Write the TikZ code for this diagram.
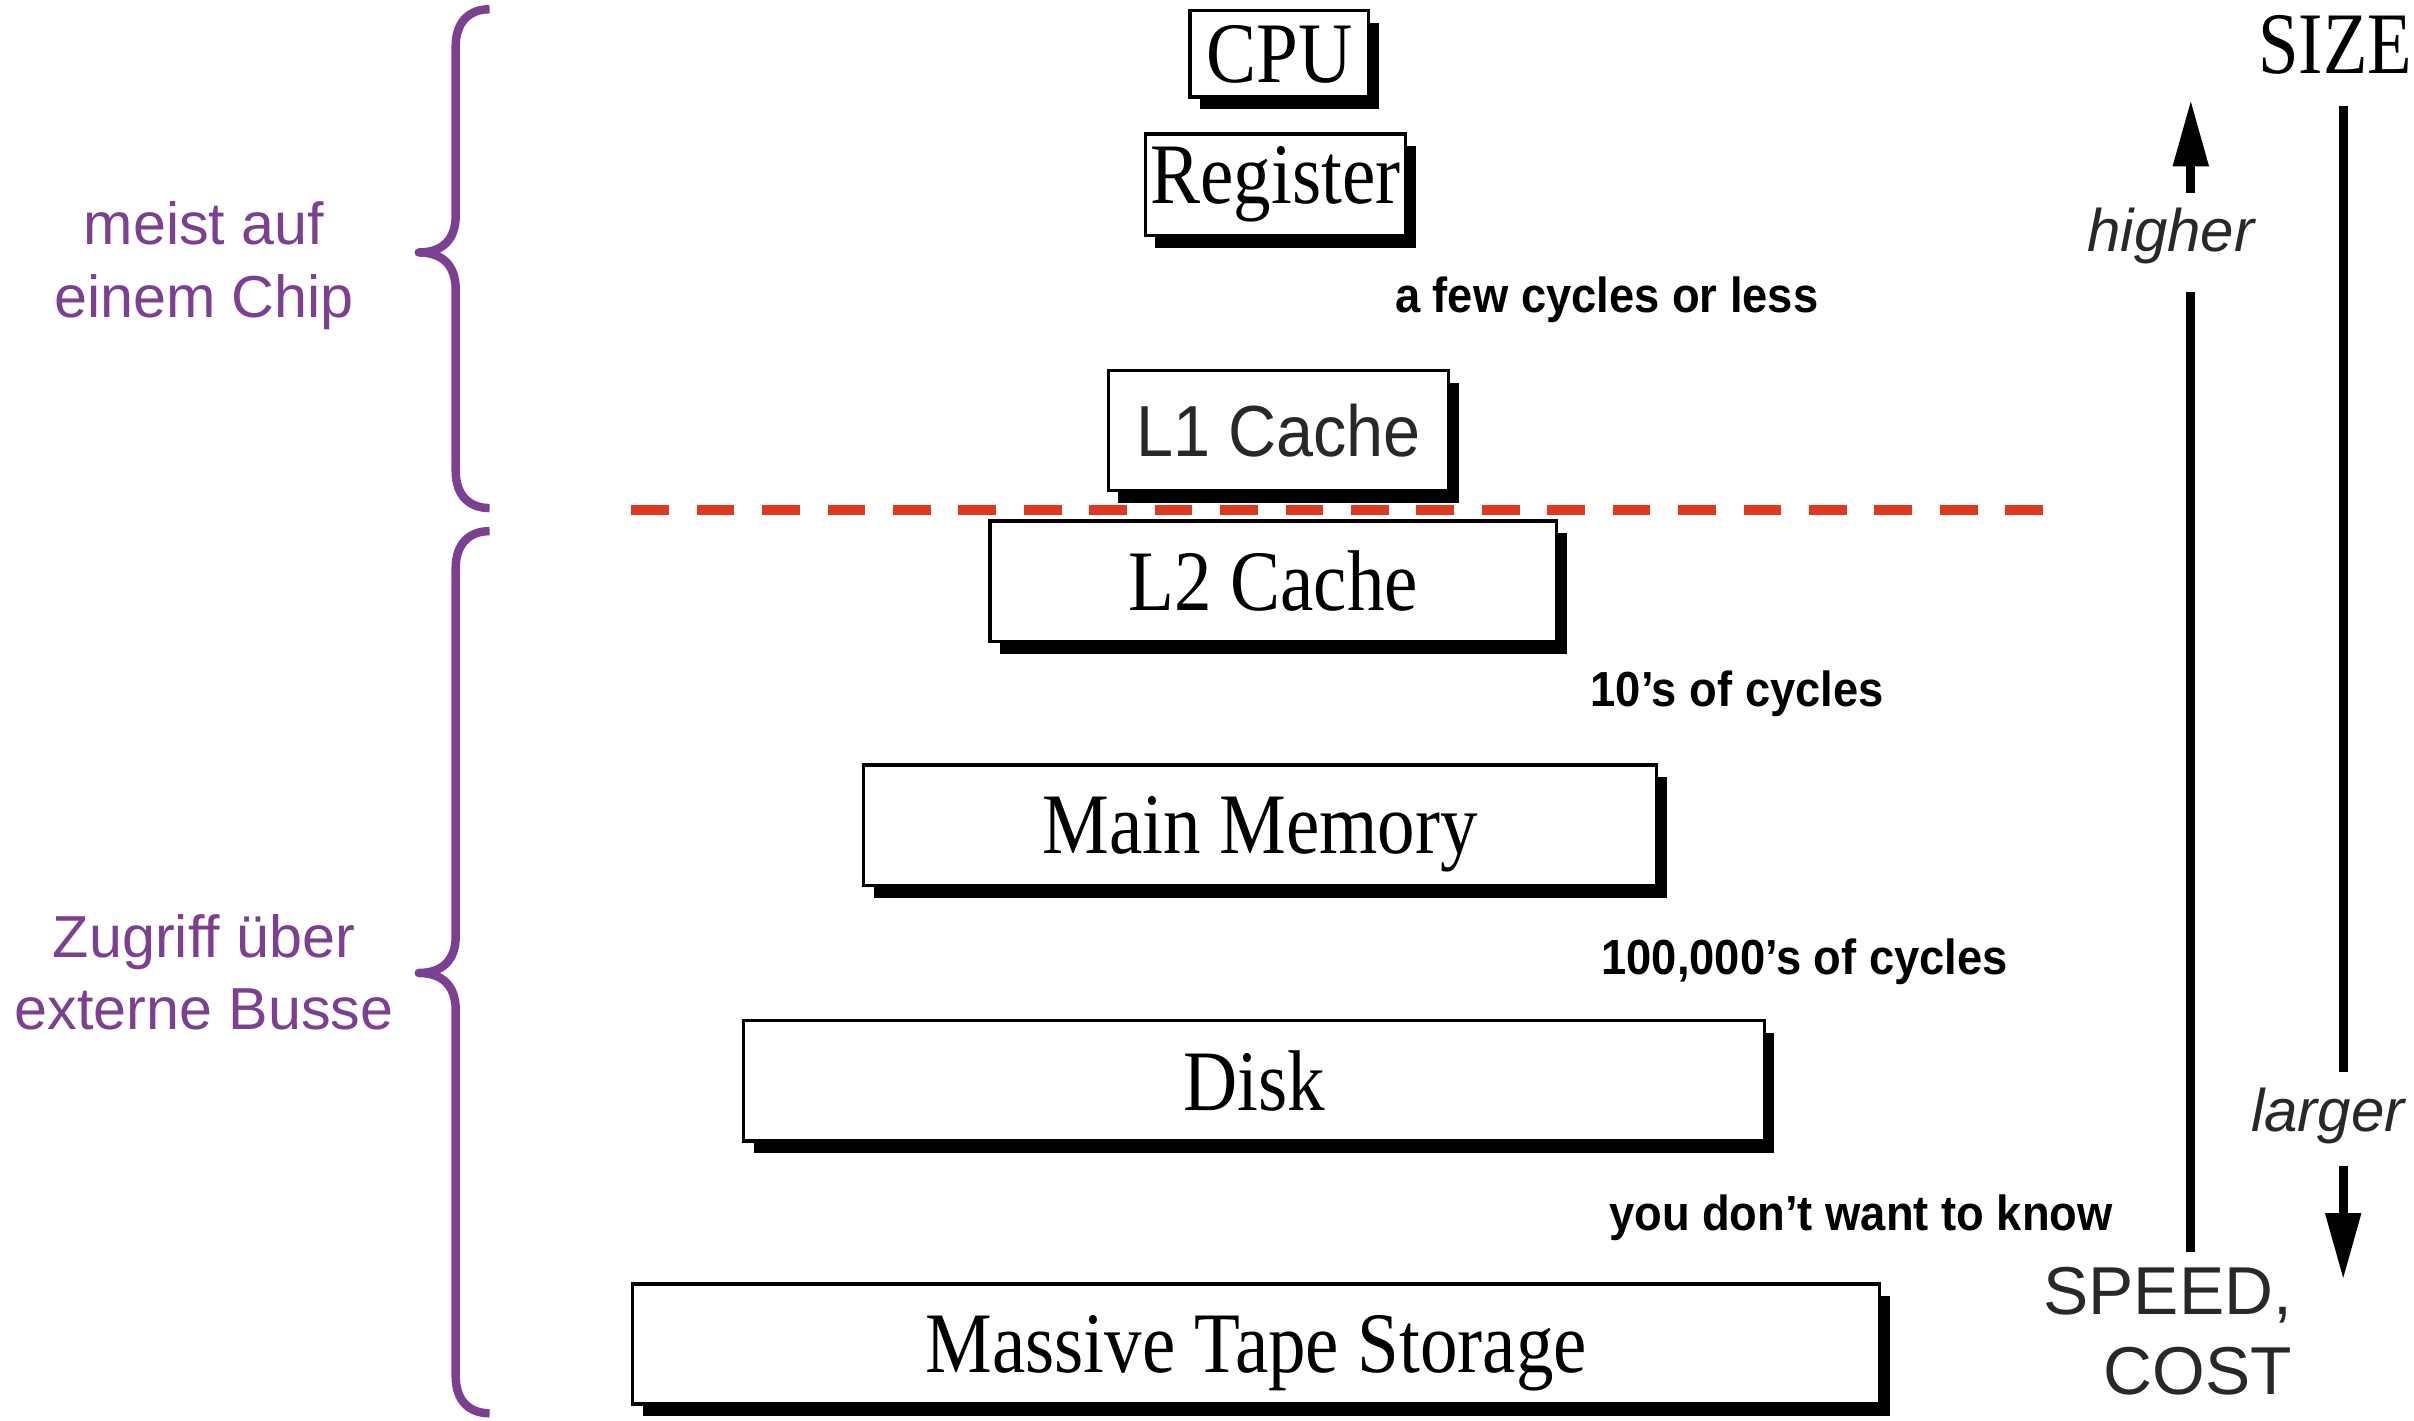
\documentclass[tikz,border=0pt]{standalone}
\usepackage{fontspec}
\setmainfont{Liberation Sans}
\newfontfamily\boxfont[FakeStretch=0.87]{Liberation Serif}
\newfontfamily\sizefont[FakeStretch=0.83]{Liberation Serif}
\newfontfamily\narrowsans[FakeStretch=0.92]{Liberation Sans}
\usetikzlibrary{arrows.meta,shadows,calc}

\definecolor{chippurple}{RGB}{123,64,145}
\definecolor{dashred}{RGB}{222,56,31}
\definecolor{textgray}{RGB}{40,40,40}

\tikzstyle{memory}=[draw=black, line width=2.2pt, fill=white, inner sep=0pt, minimum height=78pt, font=\boxfont\fontsize{56}{62}\selectfont, drop shadow={shadow xshift=6.5pt, shadow yshift=-8pt, opacity=1, fill=black}]
\tikzstyle{cycles}=[anchor=base west, inner sep=0pt, font=\narrowsans\bfseries\fontsize{32}{38}\selectfont]
\tikzstyle{speedaxis}=[line width=5.6pt]
\tikzstyle{axistip}=[-{Triangle[width=22pt,length=43pt]}]
\tikzstyle{chipbrace}=[chippurple, line width=5.5pt, line join=round]
\tikzstyle{side}=[chippurple, align=center, inner sep=0pt, font=\fontsize{38.5}{47}\selectfont]
\tikzstyle{trend}=[textgray, inner sep=0pt, anchor=base, font=\itshape\fontsize{39}{47}\selectfont]

\begin{document}
\begin{tikzpicture}[x=1pt, y=-1pt]
	\useasboundingbox (0,0) rectangle (1568,923);

	% Speicherhierarchie
	\node(cpu) at (831,35) [memory, minimum width=116pt, minimum height=56pt] {CPU};
	\node(register) at (828.5,120) [memory, minimum width=169pt, minimum height=66pt] {Register};
	\node(lone) at (830.5,279.5) [memory, minimum width=221pt, text=textgray, font=\narrowsans\fontsize{47}{56}\selectfont] {L1 Cache};
	\node(ltwo) at (827,377.5) [memory, minimum width=368pt] {L2 Cache};
	\node(mainmem) at (818.5,536) [memory, minimum width=515pt, text depth=0pt] {Main Memory};
	\node(disk) at (814.5,702) [memory, minimum width=663pt] {Disk};
	\node(tape) at (816,873) [memory, minimum width=810pt, text depth=0pt] {Massive Tape Storage};

	\node(fewcycles) at (906,203) [cycles] {a few cycles or less};
	\node(tencycles) at (1033,459) [cycles] {10’s of cycles};
	\node(diskcycles) at (1040,633) [cycles] {100,000’s of cycles};
	\node(tapecycles) at (1045,799) [cycles] {you don’t want to know};

	% Grenze des Chips
	\draw[dashred, line width=6.5pt, dash pattern=on 24.5pt off 18pt] (410,331) -- (1330,331);

	% Klammern links
	\draw[chipbrace] (318,6) .. controls (305,6) and (296,14) .. (296,30) -- (296,140)
		.. controls (296,156) and (287,164) .. (272,164) .. controls (287,164) and (296,172) .. (296,188)
		-- (296,306) .. controls (296,322) and (305,330) .. (318,330);
	\draw[chipbrace] (318,345) .. controls (305,345) and (296,353) .. (296,369) -- (296,608)
		.. controls (296,624) and (287,632) .. (272,632) .. controls (287,632) and (296,640) .. (296,656)
		-- (296,894) .. controls (296,910) and (305,918) .. (318,918);
	\node(onchip) at (132.5,172.5) [side] {meist auf\\einem Chip};
	\node(extern) at (132.5,631.5) [side] {Zugriff über\\externe Busse};

	% Achsen rechts
	\node(speed) at (1489,823) [anchor=north east, textgray, align=right, inner sep=0pt, font=\fontsize{44}{52}\selectfont] {SPEED,\\COST};
	\node(higher) at (1410,163.5) [trend] {higher};
	\coordinate(speedtip) at (1423,65);
	\draw[speedaxis] ($(speed.north -| speedtip)+(0,-10)$) -- ($(higher.south -| speedtip)+(0,18)$);
	\draw[speedaxis, axistip] ($(higher.north -| speedtip)+(0,-10)$) -- (speedtip);

	\node(size) at (1567,48) [anchor=base east, inner sep=0pt, font=\sizefont\fontsize{57}{60}\selectfont] {SIZE};
	\node(larger) at (1512,735) [trend] {larger};
	\coordinate(sizetip) at (1522,831);
	\draw[speedaxis] ($(size.south -| sizetip)+(0,20)$) -- ($(larger.north -| sizetip)+(0,-10)$);
	\draw[speedaxis, axistip] ($(larger.south -| sizetip)+(0,14)$) -- (sizetip);

\end{tikzpicture}
\end{document}
